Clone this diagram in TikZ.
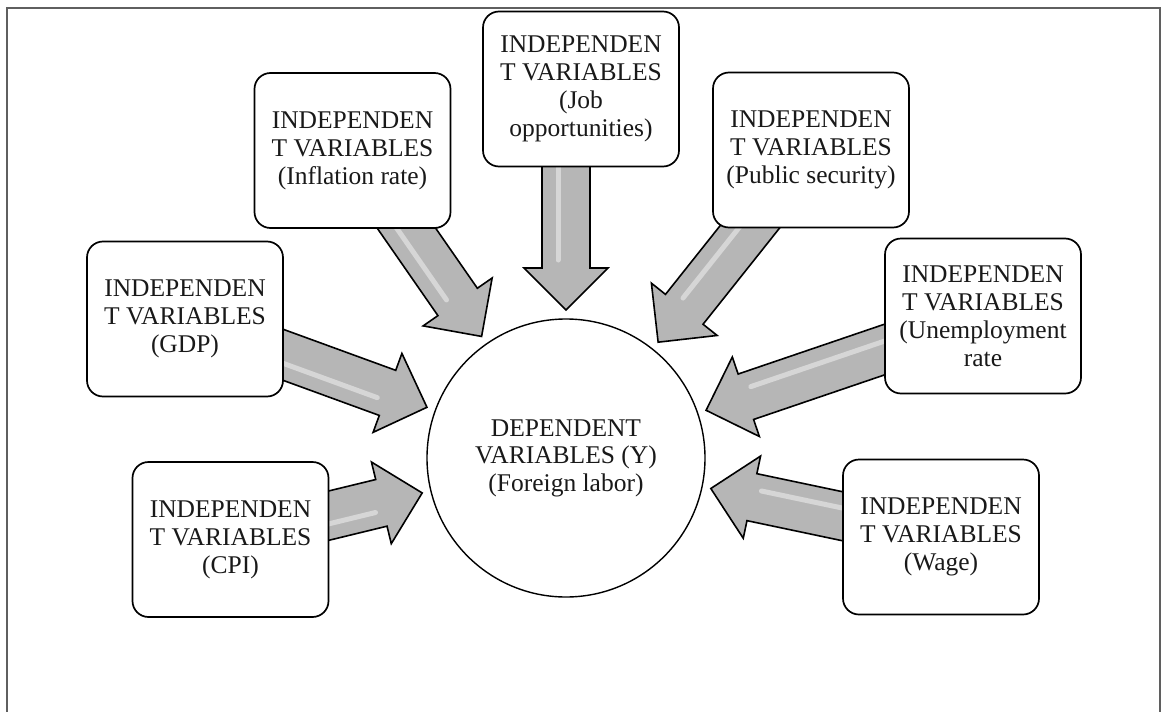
\documentclass[tikz,border=0pt]{standalone}
\usepackage{fontspec}
\setmainfont{Liberation Serif}
\usetikzlibrary{calc}
\pgfdeclarelayer{bg}
\pgfdeclarelayer{paper}
\pgfsetlayers{paper,bg,main}
\definecolor{arrgray}{RGB}{182,182,182}
\definecolor{arrlight}{RGB}{214,214,214}
\definecolor{framegray}{RGB}{95,95,95}
\definecolor{txt}{RGB}{25,25,25}
\tikzset{
  ivbox/.style={draw=black, line width=1.7pt, rounded corners=16pt, fill=white,
    minimum width=196pt, minimum height=155pt, align=center, inner sep=0pt,
    font=\fontsize{25.5}{28}\selectfont, text=txt},
  dvcirc/.style={draw=black, line width=1.4pt, circle, fill=white,
    minimum size=278pt, align=center, inner sep=0pt,
    font=\fontsize{25.5}{27.5}\selectfont, text=txt},
  blockarrow/.style={fill=arrgray, draw=black, line width=1.6pt, line join=miter},
  arrowshine/.style={draw=arrlight, line width=5pt, line cap=round},
  framestyle/.style={draw=framegray, line width=1.2pt}
}
% #1 = start node/coordinate, #2 = target node (circle)
\newcommand\bigarrow[2]{%
  \coordinate (T) at ($(#2)!148pt!(#1)$);
  \coordinate (H) at ($(T)!42pt!(#1)$);
  \begin{pgfonlayer}{bg}
    \path[blockarrow] ($(#1)!24pt!90:(T)$) -- ($(H)!24pt!90:(T)$) -- ($(H)!42pt!90:(T)$)
      -- (T) -- ($(H)!42pt!-90:(T)$) -- ($(H)!24pt!-90:(T)$) -- ($(#1)!24pt!-90:(T)$) -- cycle;
    \path[arrowshine] ($(#1)!8pt!-90:(T)$) -- ($($(H)!8pt!(#1)$)!8pt!-90:(T)$);
  \end{pgfonlayer}
}
\begin{document}
\begin{tikzpicture}[x=1pt, y=-1pt]
\useasboundingbox (0,0) rectangle (1162,712);
\begin{pgfonlayer}{paper}
\fill[white] (0,0) rectangle (1162,712);
\end{pgfonlayer}
\draw[framestyle] (7,712) -- (7,8) -- (1160,8) -- (1160,712);

\node[dvcirc] (circ) at (566,458) {DEPENDENT\\VARIABLES (Y)\\(Foreign labor)};

\node[ivbox] (job)   at (581,89)    {INDEPENDEN\\T VARIABLES\\(Job\\opportunities)};
\node[ivbox] (infl)  at (352.5,150.5) {INDEPENDEN\\T VARIABLES\\(Inflation rate)};
\node[ivbox] (pub)   at (811,150)   {INDEPENDEN\\T VARIABLES\\(Public security)};
\node[ivbox] (gdp)   at (185,319)   {INDEPENDEN\\T VARIABLES\\(GDP)};
\node[ivbox] (unemp) at (983,316)   {INDEPENDEN\\T VARIABLES\\(Unemployment\\rate};
\node[ivbox] (cpi)   at (230.5,539.5) {INDEPENDEN\\T VARIABLES\\(CPI)};
\node[ivbox] (wage)  at (941,537)   {INDEPENDEN\\T VARIABLES\\(Wage)};

\coordinate (jobs) at (job.center -| circ.center);

\bigarrow{jobs}{circ}
\bigarrow{infl}{circ}
\bigarrow{pub}{circ}
\bigarrow{gdp}{circ}
\bigarrow{unemp}{circ}
\bigarrow{cpi}{circ}
\bigarrow{wage}{circ}
\end{tikzpicture}
\end{document}
